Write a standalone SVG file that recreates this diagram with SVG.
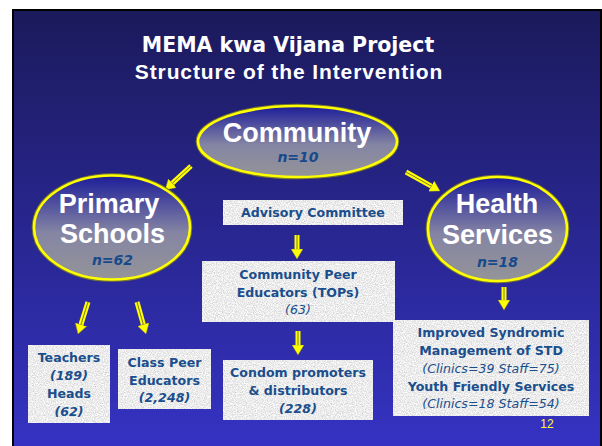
<svg xmlns="http://www.w3.org/2000/svg" width="602" height="446" viewBox="0 0 602 446">
  <defs>
    <linearGradient id="slideBg" x1="0" y1="0" x2="0" y2="1">
      <stop offset="0" stop-color="#1b1a5b"/>
      <stop offset="1" stop-color="#3633c6"/>
    </linearGradient>
    <linearGradient id="bubbleFill" x1="0" y1="0" x2="0" y2="1">
      <stop offset="0" stop-color="#1d1d99"/>
      <stop offset="0.55" stop-color="#8585a4"/>
      <stop offset="1" stop-color="#949498"/>
    </linearGradient>
    <!-- speckled stone texture for the text panels -->
    <filter id="granite" x="0" y="0" width="1" height="1" color-interpolation-filters="sRGB">
      <feTurbulence type="fractalNoise" baseFrequency="0.9" numOctaves="2" seed="7" result="noise"/>
      <feColorMatrix in="noise" type="matrix" values="0.35 0 0 0 0.75  0.35 0 0 0 0.75  0.35 0 0 0 0.75  0 0 0 0 1" result="grain"/>
      <feComposite in="grain" in2="SourceGraphic" operator="in"/>
    </filter>
    <marker id="head" viewBox="0 0 10 12" refX="0" refY="6" markerWidth="10" markerHeight="12" markerUnits="userSpaceOnUse" orient="auto">
      <path d="M0,0 L10,6 L0,12 z" fill="#ffff00" stroke="#8c8c2a" stroke-width="0.4"/>
    </marker>
    <style>
      .bubble-edge { fill: none; stroke: #77772e; stroke-width: 4.6; }
      .bubble { fill: url(#bubbleFill); stroke: #ffff00; stroke-width: 2.6; }
      .big { font-family: "Liberation Sans", Arial, sans-serif; font-weight: bold; font-size: 27px; fill: #ffffff; text-anchor: middle; }
      .count { font-family: "DejaVu Sans", sans-serif; font-weight: bold; font-style: italic; font-size: 14px; fill: #174a8a; text-anchor: middle; }
      .panel { fill: #ececec; filter: url(#granite); }
      .txt { font-family: "DejaVu Sans", sans-serif; font-weight: bold; font-size: 12.6px; fill: #1a4e8c; text-anchor: middle; }
      .num { font-style: italic; }
      .light { font-weight: normal; }
      .shaft { stroke: #ffff00; stroke-width: 5; fill: none; marker-end: url(#head); }
      .core { stroke: #7d7d30; stroke-width: 1; fill: none; }
    </style>
  </defs>

  <!-- slide background -->
  <rect x="0" y="0" width="602" height="446" fill="#ffffff"/>
  <rect x="13" y="10" width="588" height="450" fill="url(#slideBg)" stroke="#000000" stroke-width="2"/>

  <!-- title -->
  <g id="title">
    <text x="288" y="52" font-family="'DejaVu Sans', sans-serif" font-weight="bold" font-size="20.5" fill="#ffffff" text-anchor="middle">MEMA kwa Vijana Project</text>
    <text x="289" y="79" font-family="'Liberation Sans', Arial, sans-serif" font-weight="bold" font-size="21" letter-spacing="0.9" fill="#ffffff" text-anchor="middle">Structure of the Intervention</text>
  </g>

  <!-- connectors -->
  <g id="connectors">
    <line class="shaft" x1="191" y1="166" x2="172.4" y2="183.2"/>
    <line class="core" x1="191" y1="166" x2="172.4" y2="183.2"/>
    <line class="shaft" x1="406" y1="172" x2="431.3" y2="186.1"/>
    <line class="core" x1="406" y1="172" x2="431.3" y2="186.1"/>
    <line class="shaft" x1="297" y1="235" x2="297" y2="249"/>
    <line class="core" x1="297" y1="235" x2="297" y2="249"/>
    <line class="shaft" x1="298" y1="331" x2="298" y2="345"/>
    <line class="core" x1="298" y1="331" x2="298" y2="345"/>
    <line class="shaft" x1="504" y1="287" x2="504" y2="300"/>
    <line class="core" x1="504" y1="287" x2="504" y2="300"/>
    <line class="shaft" x1="88" y1="302" x2="81" y2="324.5"/>
    <line class="core" x1="88" y1="302" x2="81" y2="324.5"/>
    <line class="shaft" x1="137" y1="302" x2="143.3" y2="324.4"/>
    <line class="core" x1="137" y1="302" x2="143.3" y2="324.4"/>
  </g>

  <g id="community">
    <ellipse class="bubble-edge" cx="297.5" cy="141.5" rx="99.5" ry="35.5"/>
    <ellipse class="bubble" cx="297.5" cy="141.5" rx="99.5" ry="35.5"/>
    <text class="big" x="297" y="142">Community</text>
    <text class="count" x="298" y="162">n=10</text>
  </g>

  <g id="primary-schools">
    <ellipse class="bubble-edge" cx="112" cy="227.5" rx="78" ry="52"/>
    <ellipse class="bubble" cx="112" cy="227.5" rx="78" ry="52"/>
    <text class="big" x="109" y="213">Primary</text>
    <text class="big" x="112.5" y="243">Schools</text>
    <text class="count" x="112.5" y="265">n=62</text>
  </g>

  <g id="health-services">
    <ellipse class="bubble-edge" cx="497.5" cy="229" rx="69.5" ry="52"/>
    <ellipse class="bubble" cx="497.5" cy="229" rx="69.5" ry="52"/>
    <text class="big" x="497" y="213">Health</text>
    <text class="big" x="497.5" y="244">Services</text>
    <text class="count" x="497.5" y="267">n=18</text>
  </g>

  <g id="advisory-committee">
    <rect class="panel" x="223" y="200" width="180" height="25"/>
    <text class="txt" x="313" y="217">Advisory Committee</text>
  </g>

  <g id="community-peer-educators">
    <rect class="panel" x="202" y="261" width="193" height="61"/>
    <text class="txt" x="298" y="279">Community Peer</text>
    <text class="txt" x="298" y="297">Educators (TOPs)</text>
    <text class="txt num light" x="298" y="314">(63)</text>
  </g>

  <g id="condom-promoters">
    <rect class="panel" x="223" y="360" width="150" height="60"/>
    <text class="txt" x="298" y="377">Condom promoters</text>
    <text class="txt" x="298" y="395">&amp; distributors</text>
    <text class="txt num" x="298" y="413">(228)</text>
  </g>

  <g id="clinic-services">
    <rect class="panel" x="393" y="320" width="196" height="96"/>
    <text class="txt" x="491" y="337">Improved Syndromic</text>
    <text class="txt" x="491" y="355">Management of STD</text>
    <text class="txt num light" x="491" y="373">(Clinics=39 Staff=75)</text>
    <text class="txt" x="491" y="391">Youth Friendly Services</text>
    <text class="txt num light" x="491" y="408">(Clinics=18 Staff=54)</text>
  </g>

  <g id="teachers">
    <rect class="panel" x="28" y="345" width="82" height="78"/>
    <text class="txt" x="69" y="362">Teachers</text>
    <text class="txt num" x="69" y="380">(189)</text>
    <text class="txt" x="69" y="398">Heads</text>
    <text class="txt num" x="69" y="416">(62)</text>
  </g>

  <g id="class-peer-educators">
    <rect class="panel" x="118" y="349" width="93" height="60"/>
    <text class="txt" x="164.5" y="367">Class Peer</text>
    <text class="txt" x="164.5" y="385">Educators</text>
    <text class="txt num" x="164.5" y="402">(2,248)</text>
  </g>

  <text x="547" y="428" font-family="'Liberation Sans', Arial, sans-serif" font-size="12" fill="#ffff33" text-anchor="middle">12</text>
</svg>
